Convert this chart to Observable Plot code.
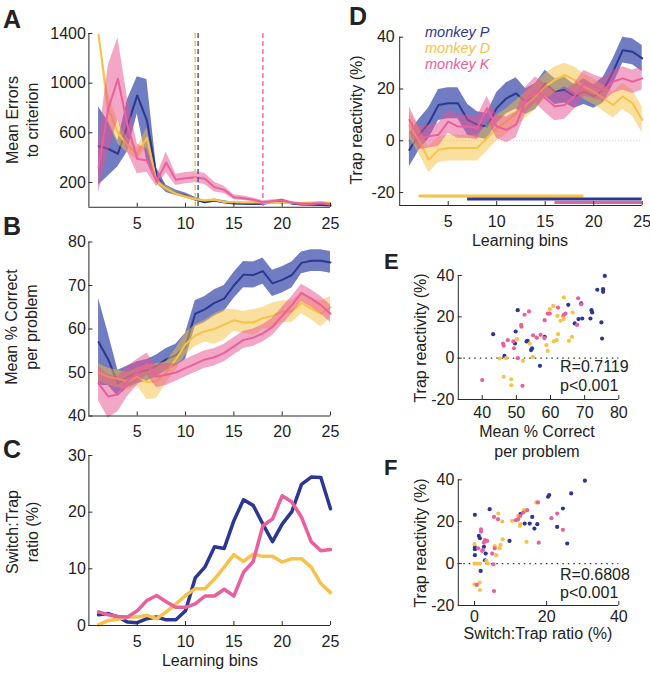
<!DOCTYPE html>
<html><head><meta charset="utf-8">
<script src="https://cdn.jsdelivr.net/npm/d3@7"></script>
<script src="https://cdn.jsdelivr.net/npm/@observablehq/plot@0.6"></script>
<style>
body{margin:0;background:#fff;}
#fig{position:relative;width:650px;height:673px;font-family:"Liberation Sans",Arial,Helvetica,sans-serif;color:#222;overflow:hidden;background:#fff;}
#fig svg{position:absolute;}
.t{position:absolute;white-space:nowrap;font-size:16px;line-height:20px;}
.rot{transform:translate(-50%,-50%) rotate(-90deg);text-align:center;}
.ctr{transform:translate(-50%,-50%);text-align:center;}
.letter{position:absolute;font-weight:bold;font-size:25px;line-height:1;}
.leg{position:absolute;font-style:italic;font-size:14.5px;line-height:16px;white-space:nowrap;}
</style></head><body><div id="fig"></div>
<script>
const bins = d3.range(1, 26);
const monkeys = ["monkey P", "monkey D", "monkey K"];
const lineColor = {P: "#2c3792", D: "#f6c24a", K: "#e8609e"};
const bandColor = {P: "#2d40a5", D: "#f8c040", K: "#e8508f"};
const bandOpacity = {P: 0.68, D: 0.5, K: 0.5};

// Panel A: mean errors to criterion (mean, half-width of band)
const errP = [492, 471, 431, 659, 901, 700, 256, 148, 116, 94, 65, 40, 55, 40, 30, 28, 27, 28, 40, 55, 30, 22, 20, 18, 14];
const errPe = [315, 220, 105, 210, 150, 330, 60, 30, 22, 20, 15, 12, 12, 12, 10, 10, 10, 10, 10, 10, 10, 10, 8, 8, 8];
const errD = [1390, 800, 600, 500, 430, 560, 210, 150, 110, 85, 65, 55, 60, 42, 40, 38, 40, 36, 35, 35, 35, 35, 36, 38, 35];
const errDe = [10, 120, 90, 60, 50, 80, 30, 20, 15, 12, 10, 8, 8, 6, 6, 6, 6, 6, 6, 6, 6, 6, 6, 6, 6];
const errK = [323, 793, 1035, 659, 390, 377, 208, 360, 221, 234, 242, 229, 162, 140, 81, 73, 60, 41, 49, 54, 36, 27, 27, 33, 22];
const errKe = [210, 350, 330, 215, 120, 95, 40, 85, 45, 45, 45, 45, 40, 30, 20, 18, 15, 12, 12, 12, 10, 10, 10, 10, 10];
const criterionBin = {D: 11, P: 11.3, K: 18};

// Panel B: mean % correct per problem
const corP = [57, 53, 47.5, 49, 50, 50.5, 51.5, 53, 54, 56, 63.5, 64.5, 66, 67, 70, 72.5, 72.4, 73.3, 70.5, 71.3, 72.4, 75.2, 75.7, 75.7, 75.3];
const corPe = [10, 6, 3, 2.5, 2.5, 2.5, 2.5, 2.5, 2.5, 3, 3, 3, 3, 3, 3, 3, 3, 3, 3, 3, 3, 2.5, 2.5, 2.5, 2.5];
const corD = [50, 49, 48.5, 48, 49, 47.8, 48, 50, 53, 56.5, 58.5, 59.5, 60, 61, 62, 61.5, 61.5, 62.5, 63, 64, 64, 66, 64.7, 63.5, 65];
const corDe = [2, 2, 2, 2, 2, 4, 4, 2.5, 2.5, 2.5, 2.5, 2.5, 3.5, 3.5, 2.5, 2.5, 3, 2.5, 3, 2.5, 2.5, 2.5, 2.5, 3, 2.5];
const corK = [47.5, 44.5, 45, 48, 50, 52, 49, 49.5, 50, 51, 52, 53, 53.5, 54.5, 56, 57.5, 58, 59, 60.5, 63, 65.5, 68.3, 67, 65.5, 63.5];
const corKe = [4, 5, 4, 3.5, 3, 2.5, 2.5, 2.5, 2, 2, 2, 2, 2, 2, 2, 2, 2, 2, 2, 2, 2, 2, 2, 2, 2];

// Panel C: switch:trap ratio (%)
const swP = [1.9, 2.1, 1.5, 0.6, 0.5, 1.2, 1.5, 1.0, 1.0, 2.6, 8.4, 10.3, 13.9, 13.6, 18.5, 22.2, 21.2, 17.9, 14.8, 17.9, 20.1, 24.9, 26.2, 26.1, 20.6];
const swD = [0.1, 0.9, 1.1, 1.5, 1.5, 1.8, 1.2, 2.4, 3.8, 5.3, 6.5, 6.5, 8.2, 10.3, 12.5, 11.3, 12.6, 12.2, 12.2, 11.2, 11.8, 11.8, 10.3, 7.4, 5.8];
const swK = [2.4, 1.9, 1.6, 1.5, 2.6, 4.4, 5.3, 4.2, 3.2, 3.2, 3.8, 5.2, 5.2, 6.4, 5.2, 9.4, 11.3, 17.6, 18.8, 22.9, 21.8, 19.1, 14.8, 13.2, 13.4];

// Panel D: trap reactivity (%)
const trP = [-3.5, 2.3, 6.8, 13.8, 14.5, 14.5, 8.1, 6.2, 5.5, 12.6, 16.4, 18.3, 15.1, 17.1, 22.2, 19, 19.6, 17.1, 19, 17.1, 19.6, 26.7, 35, 34.4, 31.8];
const trPe = [6.5, 6, 6, 6, 6, 6, 6, 5, 5, 6, 6, 6, 5, 5, 5, 5, 5, 4.5, 5, 4.5, 5, 5, 5, 5, 5];
const trD = [6, 0, -7.3, -3.5, -2.8, -2.8, -2.8, -2.8, 1, 4.9, 7.4, 10.6, 13.8, 17.1, 20.9, 23.5, 25.4, 23.5, 20.9, 19, 16.4, 13.8, 17.1, 14.5, 8.1];
const trDe = [5, 5, 5, 5, 5, 5, 5, 5, 5, 5, 5, 5, 5, 5, 5, 5, 4.5, 5, 5, 5, 5, 5, 5, 5, 5];
const trK = [8.1, 1, 1.7, 2.3, 7.4, 5.5, 5.5, 4.9, 12.6, 5.5, 4.2, 6.2, 15.8, 19.6, 16.4, 13.2, 13.8, 17.1, 22.2, 20.9, 19.6, 22.8, 24.1, 22.8, 24.1];
const trKe = [5, 4.5, 4.5, 4.5, 4.5, 4.5, 4.5, 4.5, 4.5, 4.5, 5, 5, 5, 5, 5.5, 5.5, 5.5, 5, 5, 4.5, 4.5, 4.5, 4.5, 4.5, 4.5];
// significance bars: monkey, first bin, last bin, level
const sigMonkey = ["D", "P", "K"];
const sigStart = [2, 7, 16];
const sigEnd = [19, 25, 25];
const sigLevel = [-21.3, -22.5, -23.8];

// Panel E: (mean % correct, trap reactivity) per bin
const eP = [[43.2,11.6],[46.5,1.1],[50.4,23.2],[49.8,12.9],[49.6,7.1],[53,8.1],[53.3,8.4],[54.3,3.9],[54.6,4.7],[56.9,-3.7],[58.3,10.3],[65.2,25.8],[69,26.5],[67.1,16.8],[68.2,18.9],[69.3,19.2],[72,23.2],[72.2,22.1],[71.7,19.2],[73.7,33.1],[75.4,33.4],[75.4,32.1],[75.9,39.8],[74.9,17.3],[75.1,9.5]];
const eD = [[45.1,-0.2],[47,0],[46.3,-9],[48.5,-10.2],[48.5,-13.1],[50.2,9.2],[51.9,-1.3],[53.9,7.1],[54.8,0.6],[56.1,9.7],[58.8,6.3],[59.2,3.5],[59.8,23.7],[60.8,25.3],[61,8.1],[61.8,8.7],[62.2,11.6],[62,20.5],[62.9,18.1],[63.9,18.9],[63.6,20.2],[63.9,29.4],[65.4,8.4],[66.3,10.3],[66.5,22.1]];
const eK = [[40,-10.6],[46.1,7.1],[46.3,6],[47.5,8.7],[49.1,8.1],[49.3,4.8],[50.4,0],[51.4,16.1],[51.5,15.2],[52.4,21],[53.7,22.6],[51.8,-13.4],[54.9,11.1],[55.9,10],[57.1,11.3],[58.2,9.7],[58.3,18.4],[59.2,21.6],[59.8,21.6],[62.2,24.5],[63.9,21],[64.4,21.6],[68.1,29],[67.8,16.1],[69,26.1]];
// Panel F: (switch:trap ratio, trap reactivity) per bin
const fP = [[0.1,23.3],[0.1,7.7],[0.1,6.9],[0.1,4],[1.2,13.2],[1.5,12.1],[1.7,-3.5],[2.6,8],[2.9,1.6],[3.1,4.8],[4.2,26],[9.7,10.8],[13.9,19.1],[15.3,19.1],[16,22.3],[16.6,16.7],[17.4,18.8],[12.7,23.6],[20.4,31.9],[20.7,32.7],[22.9,17.5],[24.5,26.3],[25.7,9.6],[26.8,33.5],[30.6,39.6]];
const fD = [[0,9.3],[0,0],[0.7,0],[1.5,0],[0,-9.9],[1.4,-9.1],[1.5,-12.6],[3.3,1.3],[3.7,0],[5.6,8.3],[6,4],[6.6,23.9],[7,7.3],[7.2,8.9],[7.7,20.1],[7.8,11.6],[10.4,20.4],[12.7,18.8],[12.6,18],[13.7,25.5],[14.4,10.4],[17.1,29.2],[11.8,20.7],[12.1,22.8],[14.1,25.2]];
const fK = [[0.6,-10.2],[1,7.3],[1.8,16.4],[1.8,15.3],[2.1,6.1],[2.6,10],[2.9,11.2],[3.5,10.8],[5.2,-0.3],[5.4,-13.1],[5.4,22.3],[4.9,4.8],[5.6,7.3],[6.5,21.2],[11.4,20.7],[12.1,21.2],[12.7,22.8],[13.5,24.4],[14.6,25.5],[17.6,29.2],[17.8,10],[21.3,21.7],[22.9,23.9],[24.5,16.1],[2.3,6.4]];
const stats = {E: ["R=0.7119", "p<0.001"], F: ["R=0.6808", "p<0.001"]};

const fig = document.getElementById("fig");
const FONT = '"Liberation Sans", Arial, Helvetica, sans-serif';
const AX = "#2a2a2a";

function rows(mean, err) {
  return bins.map((b, i) => ({bin: b, m: mean[i], lo: err ? mean[i] - err[i] : mean[i], hi: err ? mean[i] + err[i] : mean[i]}));
}
function bandMarks(series) {
  const out = [];
  for (const [k, mean, err, sw] of series) {
    const r = rows(mean, err);
    if (err) out.push(Plot.areaY(r, {x: "bin", y1: "lo", y2: "hi", fill: bandColor[k], fillOpacity: bandOpacity[k], curve: "linear"}));
    out.push(Plot.line(r, {x: "bin", y: "m", stroke: lineColor[k], strokeWidth: sw || 2}));
  }
  return out;
}
function panel(region, frame, xs, ys, marks) {
  const [left, top, width, height] = region;
  const [fx0, fx1, fy0, fy1] = frame;
  const fw = fx1 - fx0, fh = fy1 - fy0;
  const axisMarks = [
    Plot.ruleX([xs.domain[0]], {stroke: AX, strokeWidth: 1}),
    Plot.ruleY([ys.domain[0]], {stroke: AX, strokeWidth: 1}),
    Plot.ruleX(xs.ticks, {stroke: AX, strokeWidth: 1, insetTop: fh - 4}),
    Plot.ruleY(ys.ticks, {stroke: AX, strokeWidth: 1, insetRight: fw - 4})
  ];
  const p = Plot.plot({
    width, height,
    marginLeft: fx0 - left, marginRight: left + width - fx1,
    marginTop: fy0 - top, marginBottom: top + height - fy1,
    style: {fontFamily: FONT, fontSize: "16px", color: "#222", background: "transparent", overflow: "visible"},
    x: {domain: xs.domain, ticks: xs.ticks, tickSize: 0, tickPadding: xs.pad, label: null, tickFormat: d => String(d)},
    y: {domain: ys.domain, ticks: ys.ticks, tickSize: 0, tickPadding: ys.pad, label: null, tickFormat: d => String(d)},
    marks: [...marks, ...axisMarks]
  });
  p.style.position = "absolute"; p.style.left = left + "px"; p.style.top = top + "px";
  fig.appendChild(p);
}
function html(cls, txt, x, y, extra) {
  const d = document.createElement("div");
  d.className = cls; d.innerHTML = txt;
  d.style.left = x + "px"; d.style.top = y + "px";
  if (extra) Object.assign(d.style, extra);
  fig.appendChild(d);
  return d;
}
const binTicks = [5, 10, 15, 20, 25];

// A
panel([0, 0, 345, 235], [88.4, 330, 33, 206.75],
  {domain: [0, 25], ticks: binTicks, pad: 10}, {domain: [0, 1400], ticks: [200, 600, 1000, 1400], pad: 3},
  [
    ...bandMarks([["P", errP, errPe], ["D", errD, errDe], ["K", errK, errKe]]),
    Plot.ruleX([criterionBin.D], {stroke: lineColor.D, strokeWidth: 1.5, strokeDasharray: "5,3"}),
    Plot.ruleX([criterionBin.P], {stroke: "#4a5ab0", strokeWidth: 1.5, strokeDasharray: "5,3"}),
    Plot.ruleX([criterionBin.K], {stroke: "#e870a8", strokeWidth: 1.5, strokeDasharray: "5,3"})
  ]);
// B
panel([0, 235, 345, 215], [88.4, 330, 241.5, 415.5],
  {domain: [0, 25], ticks: binTicks, pad: 10}, {domain: [40, 80], ticks: [40, 50, 60, 70, 80], pad: 3},
  bandMarks([["P", corP, corPe], ["D", corD, corDe], ["K", corK, corKe]]));
// C
panel([0, 450, 345, 223], [88.4, 330, 455, 625],
  {domain: [0, 25], ticks: binTicks, pad: 10}, {domain: [0, 30], ticks: [0, 10, 20, 30], pad: 3},
  bandMarks([["P", swP, null, 3.5], ["D", swD, null, 3.5], ["K", swK, null, 3.5]]));
// D
const sig = sigMonkey.map((k, i) => ({k, x1: sigStart[i], x2: sigEnd[i], y: sigLevel[i]}));
panel([340, 0, 310, 250], [399.2, 641.7, 36.7, 205],
  {domain: [0, 25], ticks: binTicks, pad: 10}, {domain: [-25, 40], ticks: [-20, 0, 20, 40], pad: 5},
  [
    Plot.ruleY([0], {stroke: "#c8c8c8", strokeWidth: 1, strokeDasharray: "1,2"}),
    ...bandMarks([["P", trP, trPe], ["D", trD, trDe], ["K", trK, trKe]]),
    Plot.ruleY(sig, {x1: "x1", x2: "x2", y: "y", stroke: d => lineColor[d.k], strokeWidth: 3})
  ]);
// E
const dots = (arr, k) => Plot.dot(arr, {x: d => d[0], y: d => d[1], r: 2.1, fill: lineColor[k], stroke: "none"});
panel([340, 250, 310, 210], [457.8, 618.3, 275, 399],
  {domain: [33, 80], ticks: [40, 50, 60, 70, 80], pad: 7}, {domain: [-20, 40], ticks: [-20, 0, 20, 40], pad: 4},
  [Plot.ruleY([0], {stroke: "#333", strokeWidth: 1.2, strokeDasharray: "1.5,4"}), dots(eP, "P"), dots(eD, "D"), dots(eK, "K")]);
// F
panel([340, 460, 310, 213], [457.8, 618.3, 479.3, 605],
  {domain: [-4.5, 40], ticks: [0, 20, 40], pad: 5}, {domain: [-20, 40], ticks: [-20, 0, 20, 40], pad: 4},
  [Plot.ruleY([0], {stroke: "#333", strokeWidth: 1.2, strokeDasharray: "1.5,4"}), dots(fP, "P"), dots(fD, "D"), dots(fK, "K")]);

// Panel letters
html("letter", "A", 3, 7);
html("letter", "B", 3, 214);
html("letter", "C", 3, 437);
html("letter", "D", 349, 4);
html("letter", "E", 384, 251, {fontSize: "22px"});
html("letter", "F", 384, 457, {fontSize: "22px"});

// Axis titles
html("t rot", "Mean Errors<br>to criterion", 22.5, 120);
html("t rot", "Mean % Correct<br>per problem", 21.5, 327);
html("t rot", "Switch:Trap<br>ratio (%)", 23, 532);
html("t ctr", "Learning bins", 210, 661);
html("t rot", "Trap reactivity (%)", 357, 120);
html("t ctr", "Learning bins", 520, 241);
html("t rot", "Trap reactivity (%)", 421, 338);
html("t ctr", "Mean % Correct<br>per problem", 537, 442);
html("t rot", "Trap reactivity (%)", 421, 543);
html("t ctr", "Switch:Trap ratio (%)", 538, 634);

// Stats
html("t", stats.E[0], 560, 357);
html("t", stats.E[1], 560, 376);
html("t", stats.F[0], 560, 565);
html("t", stats.F[1], 560, 583);

// Legend
const legKeys = ["P", "D", "K"];
monkeys.forEach((m, i) => html("leg", m, 425, 24 + i * 16, {color: lineColor[legKeys[i]]}));
</script></body></html>
